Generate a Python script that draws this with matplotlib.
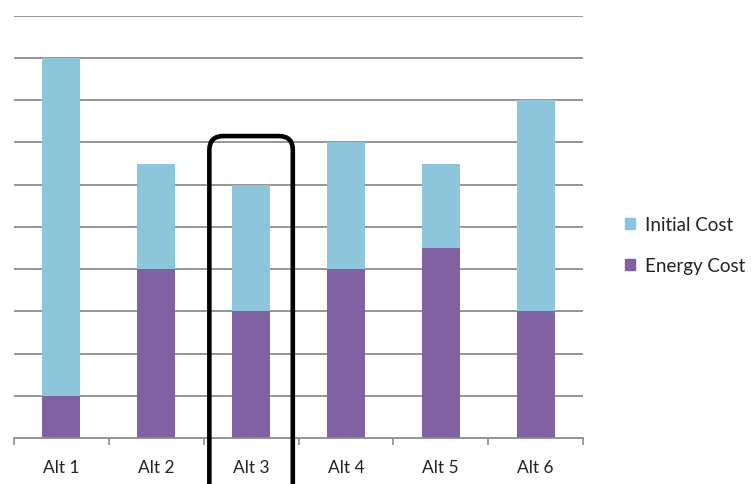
import matplotlib
matplotlib.use("Agg")
import matplotlib.pyplot as plt
import numpy as np
from matplotlib.patches import FancyBboxPatch, Patch

plt.rcParams["font.family"] = ["Lato", "DejaVu Sans"]

# cost breakdown per alternative
categories = ["Alt 1", "Alt 2", "Alt 3", "Alt 4", "Alt 5", "Alt 6"]
energy_cost = [1, 4, 3, 4, 4.5, 3]
initial_cost = [8, 2.5, 3, 3, 2, 5]

COLOR_INITIAL = "#8DC6DA"
COLOR_ENERGY = "#8062A2"
GRID = "#8C8C8C"

W, H = 751, 485
fig = plt.figure(figsize=(W / 100, H / 100), dpi=100)
ax = fig.add_axes([14 / W, 1 - 439 / H, (583 - 14) / W, (439 - 16.7) / H])

x = np.arange(len(categories))
ax.bar(x, energy_cost, width=0.4, color=COLOR_ENERGY, zorder=2)
ax.bar(x, initial_cost, width=0.4, bottom=energy_cost, color=COLOR_INITIAL, zorder=2)

ax.set_xlim(-0.5, len(categories) - 0.5)
ax.set_ylim(0, 10)

# horizontal gridlines, no y labels
ax.set_yticks(np.arange(1, 11))
ax.yaxis.grid(True, color=GRID, linewidth=1.3, zorder=1)
ax.tick_params(axis="y", length=0, labelleft=False)

# category labels centred, tick marks at the boundaries
ax.set_xticks(x)
ax.set_xticklabels(categories, fontsize=12.5, color="#222222")
ax.set_xticks(np.arange(-0.5, len(categories)), minor=True)
ax.tick_params(axis="x", which="major", length=0, pad=15)
ax.tick_params(axis="x", which="minor", length=5, width=1.2, color=GRID)

for side in ["top", "right", "left"]:
    ax.spines[side].set_visible(False)
ax.spines["bottom"].set_color(GRID)
ax.spines["bottom"].set_linewidth(1.3)

# rounded box highlighting Alt 3
fig.canvas.draw()
(x0, y0) = ax.transData.transform((1.56, 7.15))
(x1, _) = ax.transData.transform((2.44, 0))
box = FancyBboxPatch((x0, -40), x1 - x0, y0 + 40,
                     boxstyle="round,pad=0,rounding_size=14",
                     fill=False, edgecolor="black", linewidth=3.3,
                     transform=None, clip_on=False, zorder=5)
fig.patches.append(box)

handles = [Patch(color=COLOR_INITIAL, label="Initial Cost"),
           Patch(color=COLOR_ENERGY, label="Energy Cost")]
fig.legend(handles=handles, loc="center left",
           bbox_to_anchor=(612 / W, 1 - 246 / H), frameon=False,
           fontsize=13.5, handlelength=0.55, handleheight=0.55,
           handletextpad=0.5, labelspacing=1.3, labelcolor="#222222",
           borderpad=0.2)

fig.savefig("out.png", dpi=100, facecolor="white")
